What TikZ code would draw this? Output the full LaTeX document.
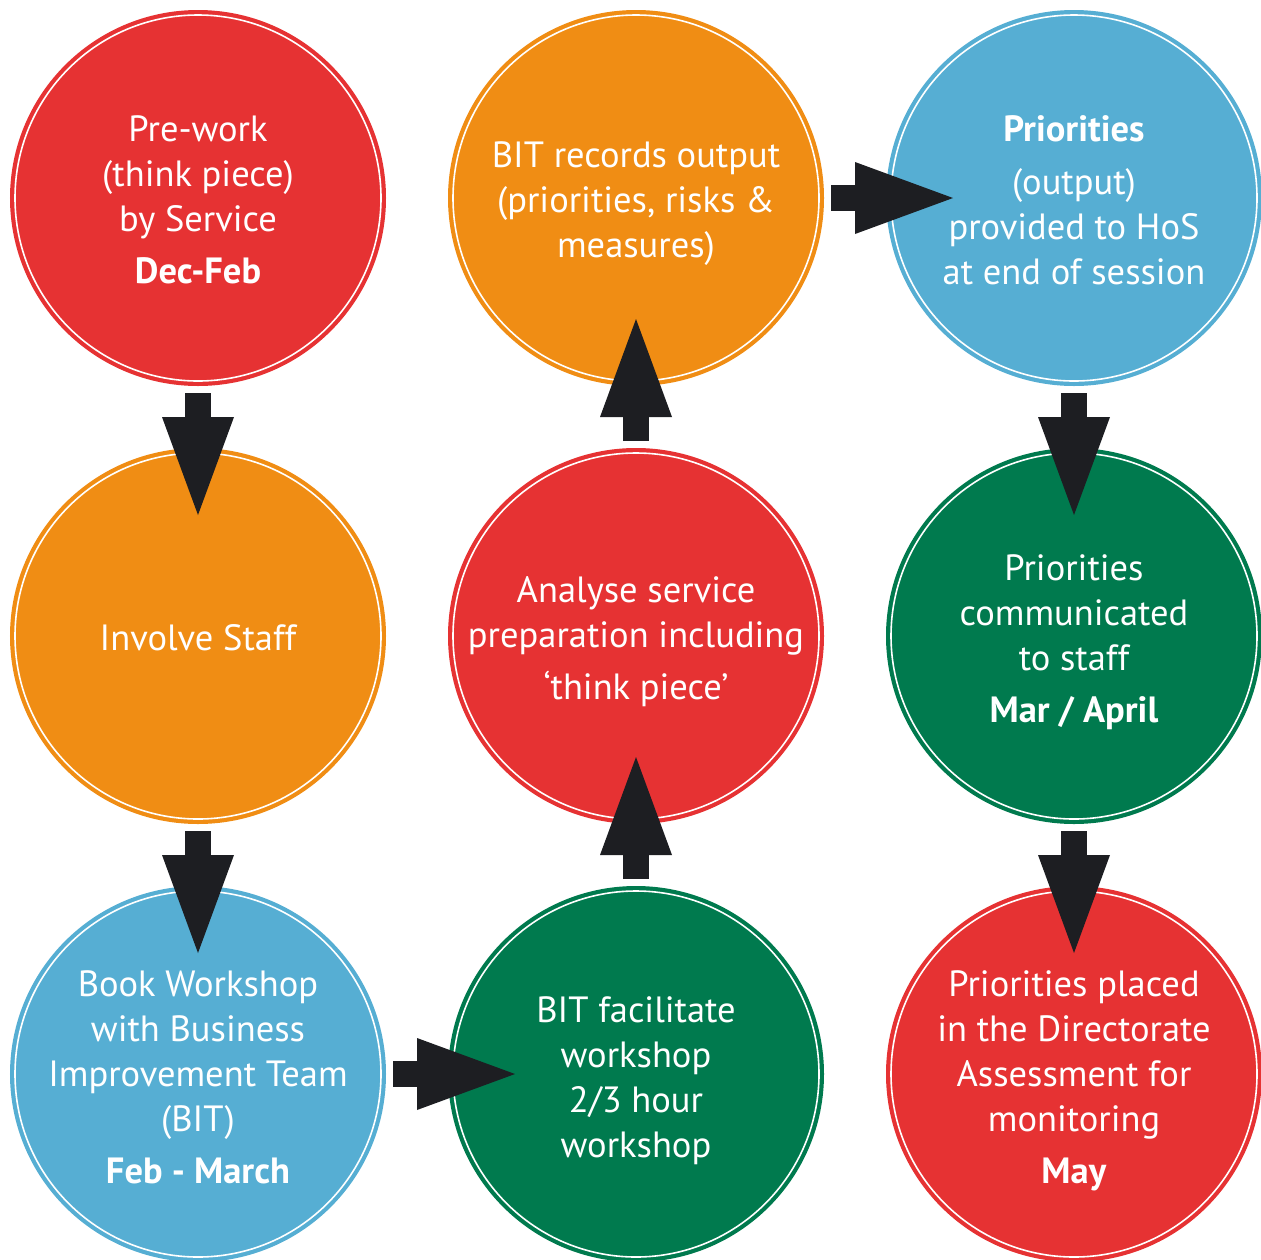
\documentclass[tikz,border=0pt]{standalone}
\usepackage{fontspec}
\setmainfont{PT Sans}
\usetikzlibrary{calc,arrows.meta}

\definecolor{cred}{HTML}{E63233}
\definecolor{corange}{HTML}{F08D14}
\definecolor{cblue}{HTML}{56AED3}
\definecolor{cgreen}{HTML}{007A4E}
\definecolor{carrow}{HTML}{1D1E22}

\tikzset{
  stage/.style={circle, minimum size=366pt, inner sep=0pt, outer sep=0pt,
    preaction={draw=#1, line width=10pt},
    fill=#1, draw=white, line width=1.6pt},
  stagetext/.style={text=white, align=center, inner sep=0pt,
    font=\fontsize{36.5}{45}\selectfont},
  flow/.style={draw=carrow, line width=26pt, line cap=butt,
    -{Triangle[width=72pt,length=98pt,line width=0pt]}},
}

\begin{document}
\begin{tikzpicture}[x=1pt, y=-1pt]
  \useasboundingbox (0,0) rectangle (1261,1259);

  % stages of the planning cycle
  \node[stage=cred]    (prework)      at (198,198)   {};
  \node[stage=corange] (involve)      at (198,636)   {};
  \node[stage=cblue]   (book)         at (198,1074)  {};
  \node[stage=cgreen]  (facilitate)   at (636,1074)  {};
  \node[stage=cred]    (analyse)      at (636,636)   {};
  \node[stage=corange] (records)      at (636,198)   {};
  \node[stage=cblue]   (priorities)   at (1074,198)  {};
  \node[stage=cgreen]  (communicated) at (1074,636)  {};
  \node[stage=cred]    (placed)       at (1074,1074) {};

  % their texts
  \node[stagetext] (prework-t) at ($(prework)+(0,2)$)
    {Pre-work\\(think piece)\\by Service\\[7pt]\textbf{Dec-Feb}};
  \node[stagetext] (involve-t) at ($(involve)+(0,2)$) {Involve Staff};
  \node[stagetext] (book-t) at ($(book)+(0,3)$)
    {Book Workshop\\with Business\\Improvement Team\\(BIT)\\[7pt]\textbf{Feb - March}};
  \node[stagetext] (facilitate-t) at ($(facilitate)+(0,7)$)
    {BIT facilitate\\workshop\\2/3 hour\\workshop};
  \node[stagetext] (analyse-t) at ($(analyse)+(0,6)$)
    {Analyse service\\preparation including\\[7pt]‘think piece’};
  \node[stagetext] (records-t) at ($(records)+(0,6)$)
    {BIT records output\\(priorities, risks \&\\measures)};
  \node[stagetext] (priorities-t) at ($(priorities)+(0,2)$)
    {\textbf{Priorities}\\[8pt](output)\\provided to HoS\\at end of session};
  \node[stagetext] (communicated-t) at ($(communicated)+(0,6)$)
    {Priorities\\communicated\\to staff\\[7pt]\textbf{Mar / April}};
  \node[stagetext] (placed-t) at ($(placed)+(0,7)$)
    {Priorities placed\\in the Directorate\\Assessment for\\monitoring\\[7pt]\textbf{May}};

  % block arrows between consecutive stages
  \foreach \a/\b in {prework/involve, involve/book, book/facilitate,
                     facilitate/analyse, analyse/records, records/priorities,
                     priorities/communicated, communicated/placed}
    \draw[flow] ($(\a)!195pt!(\b)$) -- ($(\b)!121pt!(\a)$);
\end{tikzpicture}
\end{document}
